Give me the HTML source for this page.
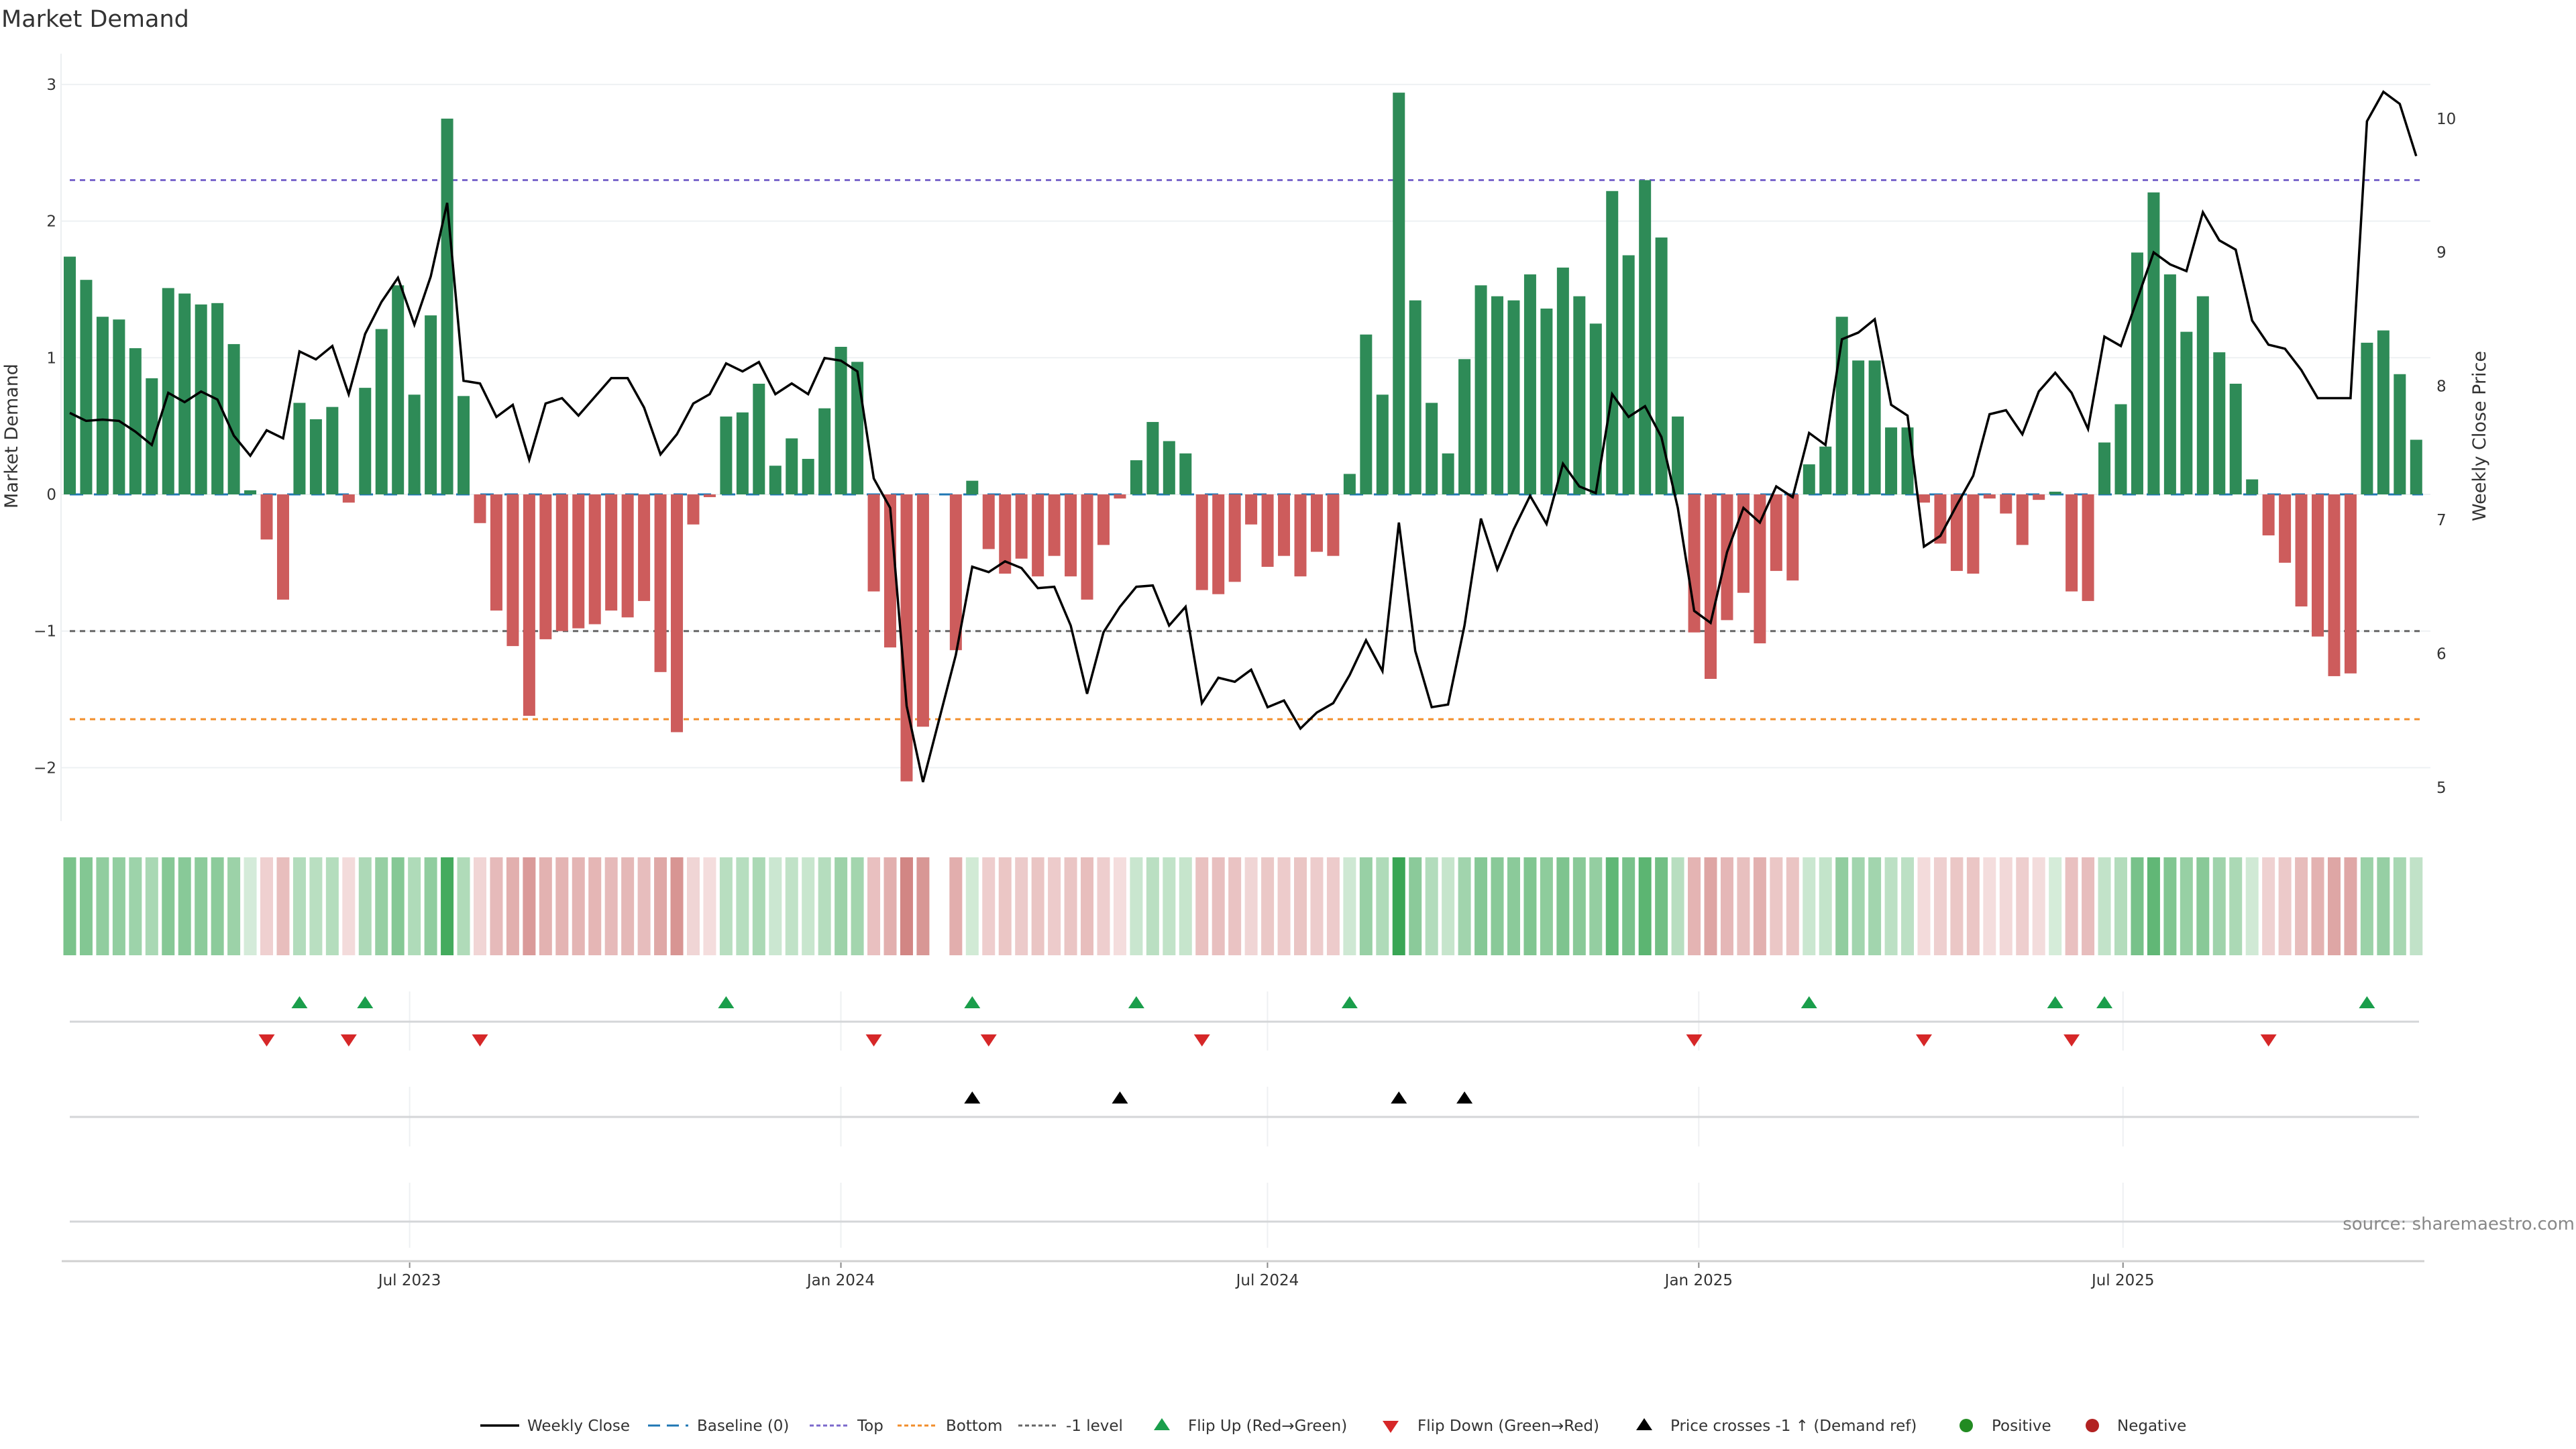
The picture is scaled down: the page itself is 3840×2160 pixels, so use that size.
<!DOCTYPE html>
<html><head><meta charset="utf-8"><title>Market Demand</title>
<style>
html,body{margin:0;padding:0;background:#fff;}
svg{display:block;font-family:"DejaVu Sans","Liberation Sans",sans-serif;}
</style></head>
<body>
<svg id="chart" width="3840" height="2160" viewBox="0 0 3840 2160" xmlns="http://www.w3.org/2000/svg">
<text x="2" y="40" font-size="35" fill="#333">Market Demand</text>
<g id="grid"></g><g id="refs"></g><g id="bars"></g><g id="line"></g><g id="axes"></g><g id="strip"></g><g id="marks"></g><g id="legend"></g>
<text x="3838" y="1833" font-size="26" fill="#888" text-anchor="end">source: sharemaestro.com</text>
</svg>
<script>
const weekIndex = Array.from({length:144},(_, i)=>i);
const demandValues = [1.74,1.57,1.30,1.28,1.07,0.85,1.51,1.47,1.39,1.40,1.10,0.03,-0.33,-0.77,0.67,0.55,0.64,-0.06,0.78,1.21,1.53,0.73,1.31,2.75,0.72,-0.21,-0.85,-1.11,-1.62,-1.06,-1.00,-0.98,-0.95,-0.85,-0.90,-0.78,-1.30,-1.74,-0.22,-0.02,0.57,0.60,0.81,0.21,0.41,0.26,0.63,1.08,0.97,-0.71,-1.12,-2.10,-1.70,null,-1.14,0.10,-0.40,-0.58,-0.47,-0.60,-0.45,-0.60,-0.77,-0.37,-0.03,0.25,0.53,0.39,0.30,-0.70,-0.73,-0.64,-0.22,-0.53,-0.45,-0.60,-0.42,-0.45,0.15,1.17,0.73,2.94,1.42,0.67,0.30,0.99,1.53,1.45,1.42,1.61,1.36,1.66,1.45,1.25,2.22,1.75,2.30,1.88,0.57,-1.01,-1.35,-0.92,-0.72,-1.09,-0.56,-0.63,0.22,0.35,1.30,0.98,0.98,0.49,0.49,-0.06,-0.36,-0.56,-0.58,-0.03,-0.14,-0.37,-0.04,0.02,-0.71,-0.78,0.38,0.66,1.77,2.21,1.61,1.19,1.45,1.04,0.81,0.11,-0.30,-0.50,-0.82,-1.04,-1.33,-1.31,1.11,1.20,0.88,0.40];
const closePrices = [7.80,7.74,7.75,7.74,7.66,7.56,7.95,7.88,7.96,7.90,7.63,7.48,7.67,7.61,8.26,8.20,8.30,7.94,8.39,8.63,8.81,8.46,8.82,9.37,8.04,8.02,7.77,7.86,7.45,7.87,7.91,7.78,7.92,8.06,8.06,7.84,7.49,7.64,7.87,7.94,8.17,8.11,8.18,7.94,8.02,7.94,8.21,8.19,8.11,7.31,7.09,5.61,5.04,null,5.99,6.65,6.61,6.69,6.64,6.49,6.50,6.21,5.70,6.16,6.35,6.50,6.51,6.21,6.35,5.63,5.82,5.79,5.88,5.60,5.65,5.44,5.56,5.63,5.84,6.10,5.87,6.98,6.02,5.60,5.62,6.21,7.01,6.63,6.93,7.18,6.97,7.42,7.25,7.20,7.94,7.77,7.85,7.62,7.09,6.32,6.23,6.76,7.09,6.98,7.25,7.17,7.65,7.56,8.35,8.40,8.50,7.86,7.78,6.80,6.88,7.11,7.33,7.79,7.82,7.64,7.96,8.10,7.95,7.68,8.37,8.30,8.65,9.00,8.91,8.86,9.30,9.09,9.02,8.49,8.31,8.28,8.12,7.91,7.91,7.91,9.98,10.20,10.11,9.72];
const flipUpIdx = [14,18,40,55,65,78,106,121,124,140];
const flipDownIdx = [12,17,25,49,56,69,99,113,122,134];
const crossIdx = [55,64,81,85];
const leftTicks = [-2,-1,0,1,2,3];
const rightTicks = [5,6,7,8,9,10];
const xTickLabels = ["Jul 2023","Jan 2024","Jul 2024","Jan 2025","Jul 2025"];
const xTickDays = [145,329,511,695,876];
const refLevels = [2.3,-1.645,-1];

const NS="http://www.w3.org/2000/svg";
function mk(tag,attrs,parent,txt){const e=document.createElementNS(NS,tag);for(const k in attrs)e.setAttribute(k,attrs[k]);if(txt!==undefined)e.textContent=txt;parent.appendChild(e);return e;}
const X=i=>104+i*24.46;
const XD=d=>104+d*3.494;
const Y=v=>737-v*203.7;
const YP=p=>775-(p-7)*199.4;
const L=91,R=3623;
const G=id=>document.getElementById(id);

leftTicks.forEach(t=>{
  const l=mk('line',{x1:L,x2:R,y1:Y(t),y2:Y(t),stroke:'#eef1f3','stroke-width':2},G('grid'));
  
  
  const tx=mk('text',{x:84,y:Y(t)+8,'font-size':23,fill:'#333','text-anchor':'end'},G('axes'),t<0?'\u2212'+Math.abs(t):String(t));
  
  
});
rightTicks.forEach(t=>{
  const tx=mk('text',{x:3632,y:YP(t)+8,'font-size':23,fill:'#333'},G('axes'),String(t));
  
  
});
const la=mk('line',{x1:L,x2:L,y1:80,y2:1224,stroke:'#eceff1','stroke-width':2},G('axes'));


const yt=mk('text',{x:0,y:0,'font-size':27,fill:'#333','text-anchor':'middle',transform:'translate(26,650) rotate(-90)'},G('axes'),'Market Demand');


const yt2=mk('text',{x:0,y:0,'font-size':27,fill:'#333','text-anchor':'middle',transform:'translate(3705,650) rotate(-90)'},G('axes'),'Weekly Close Price');



const refStyles=[['#7b68cc','top-line'],['#f28e2b','bottom-line'],['#666','minus-one-level-line']];
refLevels.forEach((v,k)=>{
  const l=mk('line',{x1:104,x2:3612,y1:Y(v),y2:Y(v),stroke:refStyles[k][0],'stroke-width':3,'stroke-dasharray':'8,7'},G('refs'));
  
  
});

demandValues.forEach((v,i)=>{
  if(v===null)return;
  const y0=Y(0),y1=Y(v);
  const r=mk('rect',{x:X(i)-9,y:Math.min(y0,y1),width:18,height:Math.max(1,Math.abs(y1-y0)),fill:v>=0?'#2e8b57':'#cd5c5c'},G('bars'));
  
  
});
const bl=mk('line',{x1:104,x2:3612,y1:Y(0),y2:Y(0),stroke:'#1f77b4','stroke-width':3,'stroke-dasharray':'20,16'},G('refs'));



let d='';
closePrices.forEach((p,i)=>{if(p===null)return;d+=(d?'L':'M')+X(i).toFixed(1)+','+YP(p).toFixed(1);});
const pl=mk('path',{d:d,fill:'none',stroke:'#000','stroke-width':3.5,'stroke-linejoin':'miter'},G('line'));



function mix(a,b,t){return 'rgb('+a.map((c,k)=>Math.round(c+(b[k]-c)*t)).join(',')+')';}
demandValues.forEach((v,i)=>{
  if(v===null)return;
  const col=v>=0?mix([214,236,218],[58,166,85],Math.min(1,v/2.94)):mix([244,222,222],[210,134,132],Math.min(1,-v/2.1));
  const r=mk('rect',{x:X(i)-9.5,y:1278,width:19,height:146,fill:col},G('strip'));
  
  
});

[[1478,1566],[1620,1709],[1763,1860]].forEach(([a,b])=>{
  xTickDays.forEach(dd=>{
    const g=mk('line',{x1:XD(dd),x2:XD(dd),y1:a,y2:b,stroke:'#eef0f2','stroke-width':2},G('marks'));
    
    
  });
});
[1523,1665,1821].forEach(y=>{
  const l=mk('line',{x1:104,x2:3606,y1:y,y2:y,stroke:'#d4d6d8','stroke-width':3},G('marks'));
  
  
});
const xa=mk('line',{x1:92,x2:3614,y1:1880,y2:1880,stroke:'#d0d0d0','stroke-width':3},G('axes'));


xTickLabels.forEach((lab,k)=>{
  const x=XD(xTickDays[k]);
  const t=mk('line',{x1:x,x2:x,y1:1882,y2:1890,stroke:'#888','stroke-width':2},G('axes'));
  
  
  const tx=mk('text',{x:x,y:1916,'font-size':23,fill:'#333','text-anchor':'middle'},G('axes'),lab);
  
  
});

function tri(x,y,up,col,name){
  const p=up?`M${x-12},${y+9}L${x+12},${y+9}L${x},${y-9}Z`:`M${x-12},${y-9}L${x+12},${y-9}L${x},${y+9}Z`;
  const e=mk('path',{d:p,fill:col},G('marks'));
  
  
}
flipUpIdx.forEach(i=>tri(X(i),1494,true,'#1a9e4b','flip-up-marker'));
flipDownIdx.forEach(i=>tri(X(i),1551,false,'#d62728','flip-down-marker'));
crossIdx.forEach(i=>tri(X(i),1636,true,'#000','price-cross-marker'));

const lg=G('legend');const ly=2125;
function ltext(x,s,name){const t=mk('text',{x:x,y:ly+8,'font-size':23,fill:'#333'},lg,s);}
function lline(x1,x2,col,dash,w,name){const l=mk('line',{x1:x1,x2:x2,y1:ly,y2:ly,stroke:col,'stroke-width':w,'stroke-dasharray':dash},lg);}
lline(716,774,'#000','none',3.5,'legend-weekly-close-swatch');ltext(786,'Weekly Close','legend-weekly-close');
lline(966,1026,'#1f77b4','18,10',3,'legend-baseline-swatch');ltext(1039,'Baseline (0)','legend-baseline');
lline(1207,1266,'#7b68cc','6,4',3,'legend-top-swatch');ltext(1278,'Top','legend-top');
lline(1338,1398,'#f28e2b','6,4',3,'legend-bottom-swatch');ltext(1410,'Bottom','legend-bottom');
lline(1518,1578,'#666','6,4',3,'legend-minus-one-swatch');ltext(1589,'-1 level','legend-minus-one');
tri(1732,ly-2,true,'#1a9e4b','legend-flip-up-swatch');ltext(1771,'Flip Up (Red\u2192Green)','legend-flip-up');
tri(2073,ly+2,false,'#d62728','legend-flip-down-swatch');ltext(2113,'Flip Down (Green\u2192Red)','legend-flip-down');
tri(2451,ly-2,true,'#000','legend-price-cross-swatch');ltext(2490,'Price crosses -1 \u2191 (Demand ref)','legend-price-cross');
const c1=mk('circle',{cx:2931,cy:ly,r:10,fill:'#228b22'},lg);
ltext(2969,'Positive','legend-positive');
const c2=mk('circle',{cx:3119,cy:ly,r:10,fill:'#b22222'},lg);
ltext(3156,'Negative','legend-negative');
</script>
</body></html>
